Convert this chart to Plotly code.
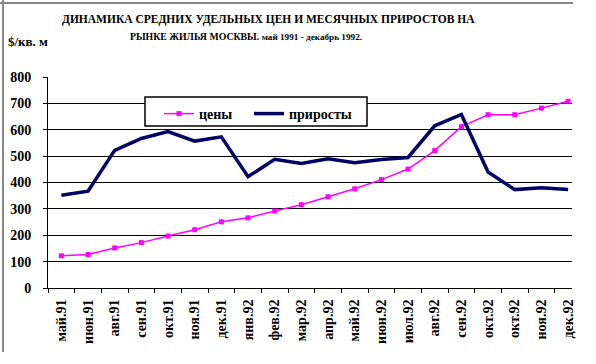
import plotly.graph_objects as go

months = ["май.91", "июн.91", "авг.91", "сен.91", "окт.91", "ноя.91", "дек.91",
          "янв.92", "фев.92", "мар.92", "апр.92", "май.92", "июн.92", "июл.92",
          "авг.92", "сен.92", "окт.92", "окт.92", "ноя.92", "дек.92"]
prices = [122, 127, 152, 172, 197, 221, 251, 266, 292, 316, 346, 376, 411, 451,
          521, 612, 657, 657, 682, 708]
growth = [352, 367, 522, 567, 593, 557, 573, 422, 488, 472, 490, 475, 487, 495,
          615, 658, 440, 373, 380, 373]
yticks = [0, 100, 200, 300, 400, 500, 600, 700, 800]

FONT = "Liberation Serif"
x = list(range(len(months)))

fig = go.Figure()
fig.add_trace(go.Scatter(
    x=x, y=prices, name="цены", mode="lines+markers", legend="legend",
    line=dict(color="#FF00FF", width=1.5),
    marker=dict(symbol="square", size=5, color="#FF00FF")))
fig.add_trace(go.Scatter(
    x=x, y=growth, name="приросты", mode="lines", legend="legend2",
    line=dict(color="#000066", width=3.5)))

W, H = 596, 364
L, R, T, B = 48, 24, 77, 76
pw, ph = W - L - R, H - T - B

def px(xp):
    return (xp - L) / pw

def py(yp):
    return (H - B - yp) / ph

legend_style = dict(orientation="h", yanchor="top", xanchor="left",
                    bgcolor="rgba(0,0,0,0)", borderwidth=0, itemwidth=30,
                    font=dict(family=FONT, size=14, weight="bold"))

fig.update_layout(
    width=W, height=H,
    margin=dict(l=L, r=R, t=T, b=B, autoexpand=False),
    paper_bgcolor="white", plot_bgcolor="white",
    font=dict(family=FONT, color="black", size=13, weight="bold"),
    showlegend=True,
    legend=dict(x=px(159), y=py(98), **legend_style),
    legend2=dict(x=px(249), y=py(98), **legend_style),
    xaxis=dict(
        range=[-0.5, -0.5 + pw / 26.67], automargin=False,
        tickmode="array", tickvals=x, ticktext=months, tickangle=-90,
        ticks="", showgrid=False, zeroline=False, ticklabelstandoff=5,
        showline=True, linecolor="black", linewidth=1,
        tickfont=dict(family=FONT, size=14, weight="bold"),
        minor=dict(tickmode="array", tickvals=[i - 0.5 for i in range(len(months) + 1)],
                   ticks="outside", ticklen=4, tickcolor="black", tickwidth=1,
                   showgrid=False)),
    yaxis=dict(
        range=[0, 800], tickmode="array", tickvals=yticks, automargin=False,
        ticks="outside", ticklen=4, tickcolor="black", ticklabelstandoff=9,
        showgrid=True, gridcolor="black", gridwidth=1, zeroline=False,
        showline=True, linecolor="black", linewidth=1,
        tickfont=dict(family=FONT, size=14, weight="bold")),
    annotations=[
        dict(text="ДИНАМИКА СРЕДНИХ УДЕЛЬНЫХ ЦЕН И МЕСЯЧНЫХ ПРИРОСТОВ НА",
             xref="paper", yref="paper", x=px(268), y=py(28.5), xanchor="center",
             yanchor="bottom", showarrow=False,
             font=dict(family=FONT, size=11.5, weight="bold")),
        dict(text="РЫНКЕ ЖИЛЬЯ МОСКВЫ. <span style='font-size:9.2px'>май 1991 - декабрь 1992.</span>",
             xref="paper", yref="paper", x=px(246), y=py(29), xanchor="center",
             yanchor="top", showarrow=False,
             font=dict(family=FONT, size=9.8, weight="bold")),
        dict(text="$/кв. м", xref="paper", yref="paper", x=px(6), y=py(42),
             xanchor="left", yanchor="middle", showarrow=False,
             font=dict(family=FONT, size=13, weight="bold")),
    ],
    shapes=[
        dict(type="rect", xref="paper", yref="paper", x0=px(145), x1=px(367),
             y0=py(97), y1=py(126), fillcolor="white", layer="above",
             line=dict(color="black", width=1.5)),
        dict(type="line", xref="paper", yref="paper", x0=px(3), x1=px(3),
             y0=py(0), y1=py(352), line=dict(color="#888888", width=2)),
        dict(type="line", xref="paper", yref="paper", x0=px(0), x1=px(573),
             y0=py(3), y1=py(3), line=dict(color="#888888", width=2)),
    ],
)

fig.write_html("out.html", config={"displayModeBar": False},
               post_script="document.body.style.margin='0';document.body.style.overflow='hidden';")
